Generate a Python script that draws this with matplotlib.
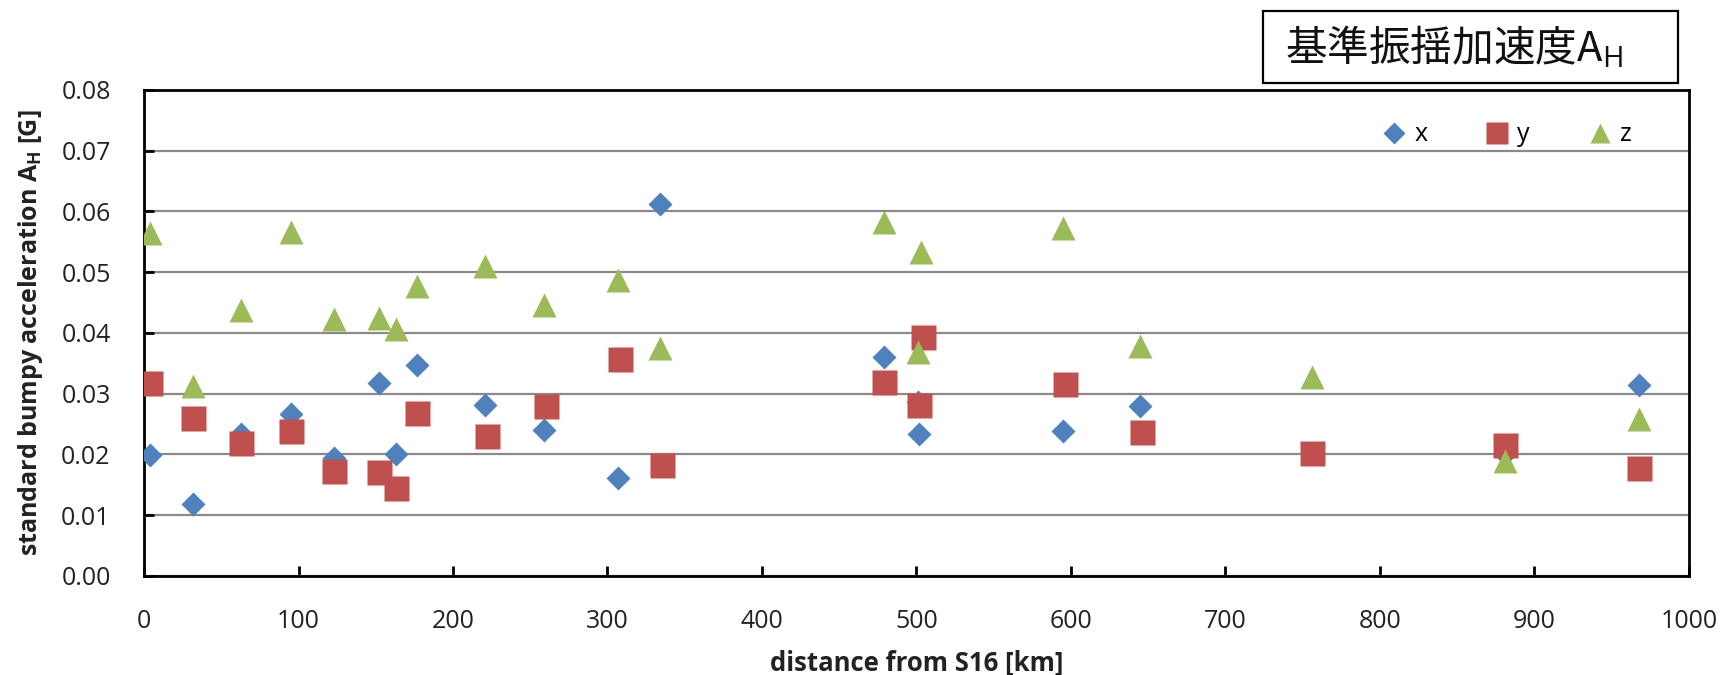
import matplotlib
matplotlib.use('Agg')
import matplotlib.pyplot as plt
import matplotlib.ticker as ticker
from matplotlib.patches import Rectangle

plt.rcParams['font.family'] = ['Open Sans', 'DejaVu Sans']
plt.rcParams['mathtext.fontset'] = 'custom'
plt.rcParams['mathtext.rm'] = 'Open Sans'
plt.rcParams['mathtext.bf'] = 'Open Sans:bold'

# 距離 [km] と各軸の基準振揺加速度 [G]
dist_x = [4, 32, 63, 95, 123, 152, 163, 177, 221, 259, 307, 334, 479, 501, 502, 595, 645, 881, 968]
acc_x = [0.0199, 0.0119, 0.0233, 0.0266, 0.0194, 0.0317, 0.0201, 0.0347, 0.0281, 0.0240, 0.0162, 0.0612,
         0.0361, 0.0287, 0.0234, 0.0239, 0.0280, 0.0200, 0.0314]

dist_y = [4, 32, 63, 95, 123, 152, 163, 177, 222, 260, 308, 335, 479, 502, 504, 596, 646, 756, 881, 968]
acc_y = [0.0318, 0.0260, 0.0219, 0.0238, 0.0173, 0.0171, 0.0144, 0.0268, 0.0231, 0.0280, 0.0357, 0.0183,
         0.0320, 0.0281, 0.0394, 0.0316, 0.0237, 0.0203, 0.0216, 0.0177]

dist_z = [4, 32, 63, 95, 123, 152, 163, 177, 221, 259, 307, 334, 479, 501, 503, 595, 645, 756, 881, 968]
acc_z = [0.0565, 0.0312, 0.0438, 0.0567, 0.0423, 0.0425, 0.0407, 0.0478, 0.0511, 0.0446, 0.0487, 0.0375,
         0.0582, 0.0369, 0.0534, 0.0572, 0.0378, 0.0328, 0.0189, 0.0259]

fig = plt.figure(figsize=(17.25, 6.75), dpi=100)
ax = fig.add_axes([0.0835, 0.1467, 0.8955, 0.72])

ax.plot(dist_x, acc_x, linestyle='none', marker='D', ms=12.5, color='#4F81BD', mec='none', label='x', zorder=3)
ax.plot(dist_y, acc_y, linestyle='none', marker='s', ms=18, color='#C0504D', mec='none', label='y', zorder=3)
ax.plot(dist_z, acc_z, linestyle='none', marker='^', ms=17, color='#9BBB59', mec='none', label='z', zorder=3)

ax.set_xlim(0, 1000)
ax.set_ylim(0, 0.08)
ax.xaxis.set_major_locator(ticker.MultipleLocator(100))
ax.yaxis.set_major_locator(ticker.MultipleLocator(0.01))
ax.yaxis.set_major_formatter(ticker.FormatStrFormatter('%.2f'))
ax.yaxis.grid(True, color='#8a8a8a', linewidth=1.6)
ax.set_axisbelow(True)

for sp in ax.spines.values():
    sp.set_linewidth(2)
    sp.set_color('black')

ax.tick_params(axis='x', direction='in', length=7, width=2, pad=24, labelsize=18, labelcolor='#222222')
ax.tick_params(axis='y', direction='in', length=7, width=2, pad=24, labelsize=18, labelcolor='#222222')

ax.set_xlabel('distance from S16 [km]', fontsize=18.5, fontweight='bold', labelpad=11, color='#222222')
ax.set_ylabel(r'standard bumpy acceleration A$_\mathbf{H}$ [G]', fontsize=18, fontweight='bold',
              labelpad=12, color='#222222')

ax.legend(loc='center left', bbox_to_anchor=(0.7932, 0.9074), ncol=3, frameon=False, fontsize=18,
          borderpad=0, handlelength=1.0, handletextpad=0.3, columnspacing=2.3, markerscale=0.88)

# タイトルの枠
fig.patches.append(Rectangle((0.7322, 0.877), 0.2406, 0.1067, transform=fig.transFigure,
                             fc='white', ec='black', lw=1.6))
fig.text(0.7449, 0.9304, '基準振揺加速度A$_\\mathrm{H}$', fontsize=30, ha='left', va='center',
         family=['Noto Sans CJK JP', 'DejaVu Sans'], color='#111111')

fig.savefig('out.png', dpi=100)
